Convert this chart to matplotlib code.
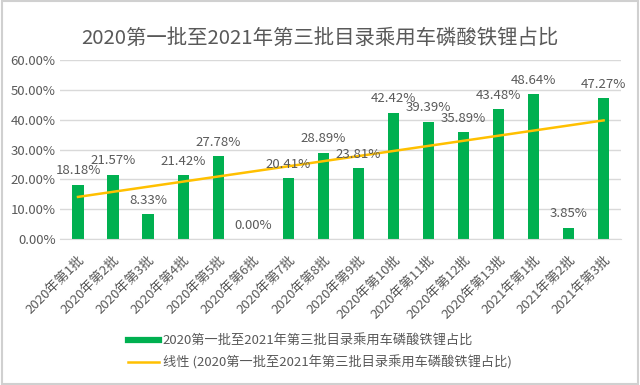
import matplotlib
matplotlib.use('Agg')
import matplotlib.pyplot as plt
import numpy as np
from matplotlib.ticker import FuncFormatter
from matplotlib.lines import Line2D
from matplotlib.patches import Rectangle

plt.rcParams['font.family'] = ['Noto Sans CJK SC', 'DejaVu Sans']

title = '2020第一批至2021年第三批目录乘用车磷酸铁锂占比'
batches = ['2020年第1批', '2020年第2批', '2020年第3批', '2020年第4批', '2020年第5批',
           '2020年第6批', '2020年第7批', '2020年第8批', '2020年第9批', '2020年第10批',
           '2020年第11批', '2020年第12批', '2020年第13批', '2021年第1批', '2021年第2批',
           '2021年第3批']
share = [18.18, 21.57, 8.33, 21.42, 27.78, 0.00, 20.41, 28.89, 23.81, 42.42,
         39.39, 35.89, 43.48, 48.64, 3.85, 47.27]

grey = '#595959'
green = '#00B050'
gold = '#FFC000'

fig = plt.figure(figsize=(6.4, 3.85), dpi=100)
fig.patches.append(Rectangle((0.003, 0.003), 0.994, 0.994, transform=fig.transFigure,
                             fill=False, edgecolor='#D0D0D0', linewidth=1.5))
ax = fig.add_axes([0.0945, 0.379, 0.876, 0.465])

x = np.arange(len(share))
ax.bar(x, share, width=0.32, color=green, zorder=2)

# linear trend line as in Excel
k, b = np.polyfit(x, share, 1)
ax.plot(x, k * x + b, color=gold, linewidth=1.8, zorder=3)

for xi, v in zip(x, share):
    ax.annotate(f'{v:.2f}%', (xi, v), xytext=(0, 10), textcoords='offset points',
                ha='center', va='center', fontsize=9.5, color=grey, zorder=4)

ax.set_xlim(-0.5, len(share) - 0.5)
ax.set_ylim(0, 60)
ax.set_yticks(range(0, 61, 10))
ax.yaxis.set_major_formatter(FuncFormatter(lambda v, p: f'{v:.2f}%'))
ax.set_xticks(x)
ax.set_xticklabels(batches, rotation=45, ha='right', rotation_mode='anchor')
ax.tick_params(axis='both', length=0, labelsize=9.5, colors=grey)
ax.tick_params(axis='x', pad=10)
ax.grid(axis='y', color='#D9D9D9', linewidth=1, zorder=0)
for s in ['top', 'right', 'left']:
    ax.spines[s].set_visible(False)
ax.spines['bottom'].set_color('#D9D9D9')

fig.text(0.5, 0.9, title, ha='center', va='center', fontsize=14.7, color=grey)

handles = [Line2D([], [], color=green, linewidth=4.5),
           Line2D([], [], color=gold, linewidth=1.8)]
labels = [title, f'线性 ({title})']
fig.legend(handles, labels, loc='center', bbox_to_anchor=(0.5, 0.086), frameon=False,
           fontsize=9.5, labelcolor=grey, handlelength=2.3, labelspacing=0.6,
           handletextpad=0.3)

fig.savefig('out.png', dpi=100)
